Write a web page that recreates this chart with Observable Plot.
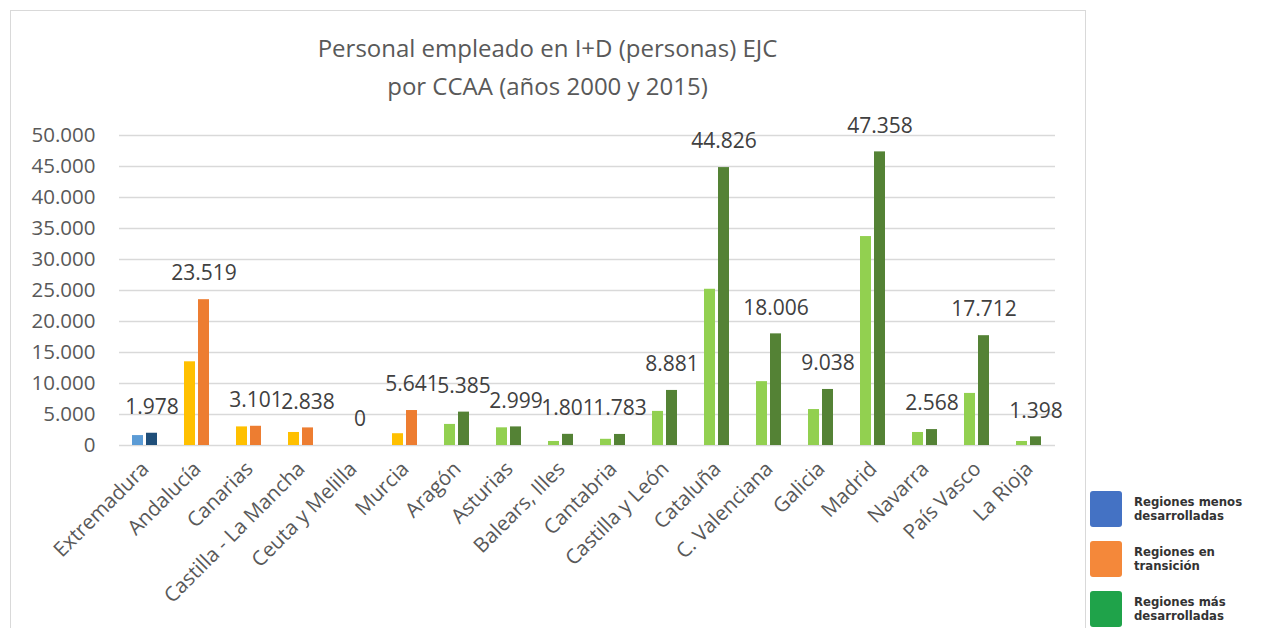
<!DOCTYPE html>
<html><head><meta charset="utf-8">
<script src="https://cdn.jsdelivr.net/npm/d3@7"></script>
<script src="https://cdn.jsdelivr.net/npm/@observablehq/plot@0.6"></script>
<style>
body{margin:0;background:#fff;font-family:"Open Sans",sans-serif;}
#wrap{position:relative;width:1262px;height:628px;overflow:hidden;}
#frame{position:absolute;left:10px;top:10px;width:1076px;height:640px;border:1.5px solid #d9d9d9;box-sizing:border-box;}
#title{position:absolute;left:10px;width:1075px;top:29px;text-align:center;font-size:24px;line-height:38px;color:#595959;}
#chart{position:absolute;left:0;top:0;}
#legend{position:absolute;left:1090px;top:484px;font-family:"Liberation Sans Narrow","DejaVu Sans Condensed",sans-serif;font-weight:bold;font-size:13px;line-height:14px;color:#333;}
.li{display:flex;align-items:center;height:50px;}
.sw{width:32px;height:36px;margin-right:12px;border-radius:3px;flex:none;}
</style></head>
<body><div id="wrap"><div id="frame"></div><div id="title">Personal empleado en I+D (personas) EJC<br>por CCAA (años 2000 y 2015)</div><div id="chart"></div>
<div id="legend"></div></div>
<script>
const regions = ["Extremadura","Andalucía","Canarias","Castilla - La Mancha","Ceuta y Melilla","Murcia","Aragón","Asturias","Balears, Illes","Cantabria","Castilla y León","Cataluña","C. Valenciana","Galicia","Madrid","Navarra","País Vasco","La Rioja"];
const v2000 = [1600,13500,3000,2100,0,1900,3400,2850,650,1000,5500,25200,10300,5800,33700,2100,8400,650];
const v2015 = [1978,23519,3101,2838,0,5641,5385,2999,1801,1783,8881,44826,18006,9038,47358,2568,17712,1398];
const groups = ["menos","transicion","transicion","transicion","transicion","transicion","mas","mas","mas","mas","mas","mas","mas","mas","mas","mas","mas","mas"];
const years = ["2000","2015"];
const yTicks = [0,5000,10000,15000,20000,25000,30000,35000,40000,45000,50000];
const legendLabels = ["Regiones menos<br>desarrolladas","Regiones en<br>transición","Regiones más<br>desarrolladas"];
const legendColors = ["#4472C4","#F4883A","#1FA34A"];

const palette = {
  menos: {"2000":"#5B9BD5","2015":"#1F4E79"},
  transicion: {"2000":"#FFC000","2015":"#ED7D31"},
  mas: {"2000":"#92D050","2015":"#548235"}
};
const rows = [];
regions.forEach((r,i)=>{
  rows.push({region:r,year:"2000",value:v2000[i],group:groups[i]});
  rows.push({region:r,year:"2015",value:v2015[i],group:groups[i]});
});
const labelRows = rows.filter(d=>d.year==="2015");
const loc = d3.formatLocale({decimal:",",thousands:".",grouping:[3],currency:["",""]});
const fmt = loc.format(",");

const plot = Plot.plot({
  width:1085, height:628,
  marginLeft:117, marginRight:29, marginTop:135, marginBottom:183,
  style:{fontFamily:"Open Sans, sans-serif", background:"transparent"},
  fx:{domain:regions, padding:0, label:null, axis:null},
  x:{domain:years, paddingInner:0.2, paddingOuter:0.84, axis:null},
  y:{domain:[0,50000], label:null},
  color:{type:"identity"},
  marks:[
    Plot.gridY(yTicks,{stroke:"#d9d9d9", strokeOpacity:1, strokeWidth:1.6}),
    Plot.axisY({ticks:yTicks, tickFormat:fmt, tickSize:0, tickPadding:24, fontSize:20.5, fill:"#595959", label:null}),
    Plot.axisFx({anchor:"bottom", tickRotate:-45, tickSize:0, tickPadding:20, fontSize:20.5, fill:"#595959", label:null}),
    Plot.barY(rows,{fx:"region", x:"year", y:"value", fill:d=>palette[d.group][d.year]}),
    Plot.text(labelRows,{fx:"region", x:"year", y:"value", text:d=>fmt(d.value), dy:-26, fontSize:21, fill:"#404040"})
  ]
});
document.getElementById("chart").appendChild(plot);

const lg = document.getElementById("legend");
legendLabels.forEach((t,i)=>{
  const d=document.createElement("div"); d.className="li";
  d.innerHTML=`<div class="sw" style="background:${legendColors[i]}"></div><div>${t}</div>`;
  lg.appendChild(d);
});
</script></body></html>
